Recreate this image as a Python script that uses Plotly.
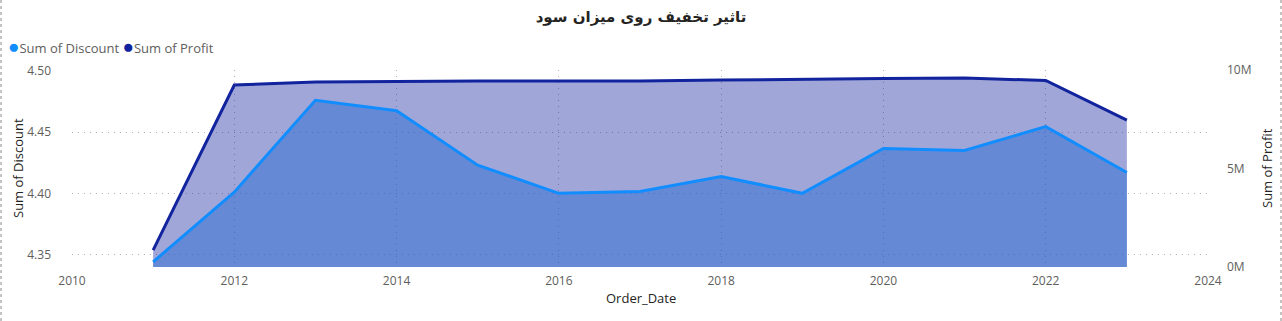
import plotly.graph_objects as go

years = [2011, 2012, 2013, 2014, 2015, 2016, 2017, 2018, 2019, 2020, 2021, 2022, 2023]
sum_discount = [4.344, 4.401, 4.476, 4.4675, 4.423, 4.400, 4.4016, 4.4138, 4.400, 4.4366, 4.435, 4.4545, 4.417]
sum_profit = [0.86e6, 9.24e6, 9.39e6, 9.42e6, 9.44e6, 9.44e6, 9.44e6, 9.49e6, 9.54e6, 9.57e6, 9.59e6, 9.47e6, 7.46e6]
x_ticks = [2010, 2012, 2014, 2016, 2018, 2020, 2022, 2024]
left_ticks = [4.35, 4.40, 4.45, 4.50]
right_ticks = [0, 5e6, 10e6]
right_tick_text = ["0M", "5M", "10M"]
series_names = ["Sum of Discount", "Sum of Profit"]
series_colors = ["#118DFF", "#12239E"]

W, H = 1282, 321
L, R, T, B = 72, 74, 70, 54
pw = W - L - R
ph = H - T - B

def px_x(p):
    return (p - L) / pw

def px_y(p):
    return (H - B - p) / ph

tick_font = dict(family="Open Sans, Noto Sans, sans-serif", size=12, color="#605E5C")
title_font = dict(family="Open Sans, Noto Sans, sans-serif", size=13, color="#252423")
grid_col = "#B3B0AD"
grid_dash = "1px,5px"

fig = go.Figure()

# profit on primary axis (right side), drawn first
fig.add_trace(go.Scatter(
    x=years, y=sum_profit, yaxis="y", mode="lines",
    line=dict(color=series_colors[1], width=3),
    fill="tozeroy", fillcolor="rgba(18,35,158,0.4)",
    showlegend=False, hoverinfo="x+y", name=series_names[1]))

# discount on overlay axis (left side), drawn on top
fig.add_trace(go.Scatter(
    x=years, y=sum_discount, yaxis="y2", mode="lines",
    line=dict(color=series_colors[0], width=3),
    fill="tozeroy", fillcolor="rgba(44,107,212,0.5)",
    showlegend=False, hoverinfo="x+y", name=series_names[0]))

legend_text = " ".join(
    "<span style='color:%s;font-size:19px'>●</span>%s" % (c, n)
    for c, n in zip(series_colors, series_names))

fig.update_layout(
    width=W, height=H,
    margin=dict(l=L, r=R, t=T, b=B, autoexpand=False),
    paper_bgcolor="white", plot_bgcolor="white",
    title=dict(text="<b>تاثیر تخفیف روی میزان سود</b>", x=0.5, xref="container",
               y=1 - 17 / H, yref="container", yanchor="middle",
               font=dict(family="DejaVu Sans", size=15, color="#252423")),
    showlegend=False,
    xaxis=dict(range=[2010, 2024], tickvals=x_ticks, ticktext=[str(v) for v in x_ticks],
               showgrid=True, gridcolor=grid_col, griddash=grid_dash, gridwidth=1,
               zeroline=False, showline=False, tickfont=tick_font, ticklabelstandoff=5,
               automargin=False),
    yaxis=dict(range=[0, 10e6], side="right", tickvals=right_ticks, ticktext=right_tick_text,
               showgrid=False, zeroline=False, showline=False, tickfont=tick_font,
               ticklabelstandoff=18, automargin=False),
    yaxis2=dict(range=[4.3398, 4.5008], side="left", overlaying="y", tickvals=left_ticks,
                ticktext=["%.2f" % v for v in left_ticks],
                showgrid=True, gridcolor=grid_col, griddash=grid_dash, gridwidth=1,
                zeroline=False, showline=False, tickfont=tick_font, ticklabelstandoff=20,
                automargin=False),
    annotations=[
        dict(text=legend_text, xref="paper", yref="paper", x=px_x(6), y=px_y(46),
             showarrow=False, xanchor="left", yanchor="middle",
             font=dict(family="Open Sans, Noto Sans, sans-serif", size=13, color="#605E5C")),
        dict(text="Sum of Discount", xref="paper", yref="paper", x=px_x(18), y=px_y(168),
             textangle=-90, showarrow=False, font=title_font, xanchor="center", yanchor="middle"),
        dict(text="Sum of Profit", xref="paper", yref="paper", x=px_x(1267), y=px_y(168),
             textangle=-90, showarrow=False, font=title_font, xanchor="center", yanchor="middle"),
        dict(text="Order_Date", xref="paper", yref="paper", x=px_x(641), y=px_y(298),
             showarrow=False, font=title_font, xanchor="center", yanchor="middle"),
    ],
    shapes=[
        dict(type="line", xref="paper", yref="paper", x0=px_x(1), x1=px_x(1), y0=px_y(0), y1=px_y(H),
             line=dict(color="#8A8886", width=1, dash="dot")),
        dict(type="line", xref="paper", yref="paper", x0=px_x(1281), x1=px_x(1281), y0=px_y(0), y1=px_y(H),
             line=dict(color="#8A8886", width=1, dash="dot")),
    ],
)

fig.write_html("out.html")
